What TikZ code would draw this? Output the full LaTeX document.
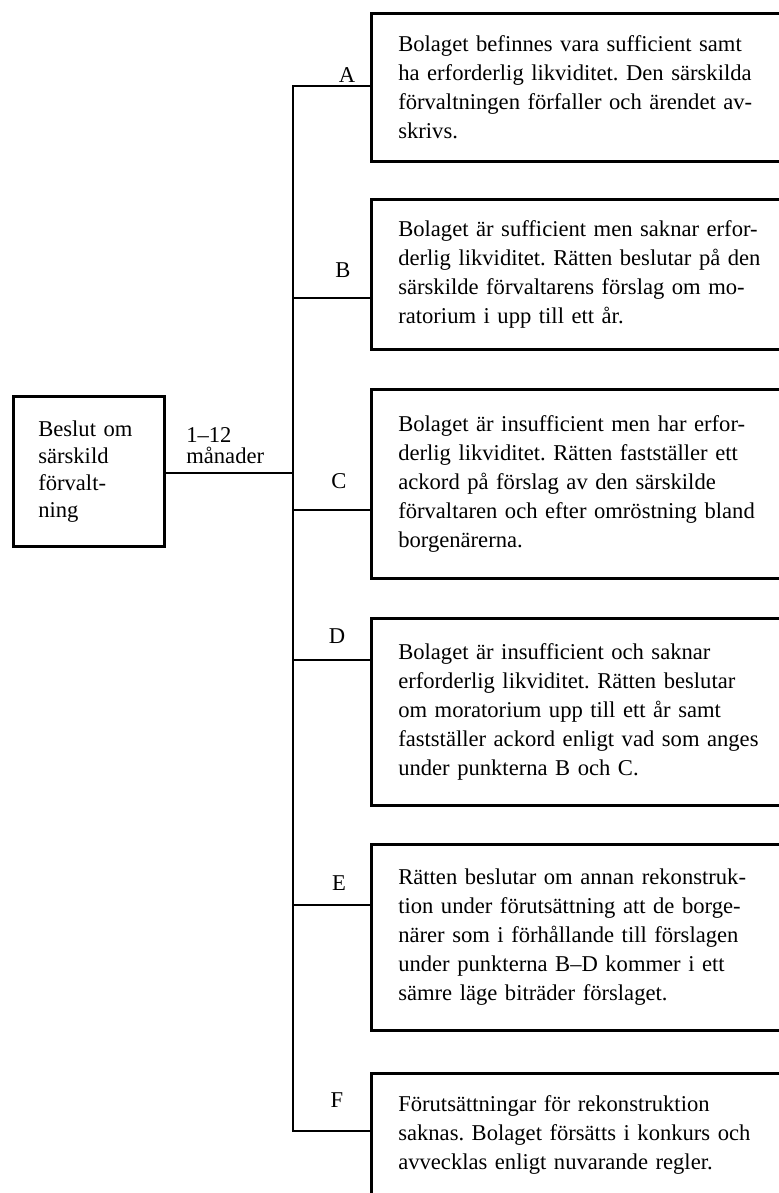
\documentclass[tikz,border=0pt]{standalone}
\usepackage{fontspec}
\setmainfont{Liberation Serif}
\usepackage{tikz}
\usetikzlibrary{positioning, calc}
\frenchspacing

\begin{document}
\begin{tikzpicture}[
  x=0.5pt, y=-0.5pt,
  line width=1.3pt,
  txt/.style={font=\fontsize{11.3}{14.5}\selectfont},
  optbox/.style={txt, draw, anchor=north west, align=left, text width=188pt, inner xsep=13.5pt, inner ysep=0pt},
  startbox/.style={draw, anchor=north west, align=left, text width=50.5pt, inner xsep=12.5pt,
    minimum width=75.5pt, minimum height=75pt, font=\fontsize{11.3}{13.5}\selectfont},
  letter/.style={txt, inner sep=0pt},
]
  \useasboundingbox (0,0) rectangle (778,1193);

  \node[startbox] (beslut) at (12,395) {Beslut om\\särskild\\förvalt-\\ning};
  \node[anchor=north west, inner sep=0pt, align=left, font=\fontsize{11.3}{10.5}\selectfont] (tid) at (185,426) {1–12\\månader};

  \node[optbox, minimum height=74pt] (boxA) at (370,12) {Bolaget befinnes vara sufficient samt\\ha erforderlig likviditet. Den särskilda\\förvaltningen förfaller och ärendet av-\\skrivs.};
  \node[optbox, minimum height=75pt] (boxB) at (370,198) {Bolaget är sufficient men saknar erfor-\\derlig likviditet. Rätten beslutar på den\\särskilde förvaltarens förslag om mo-\\ratorium i upp till ett år.};
  \node[optbox, minimum height=94.5pt] (boxC) at (370,388) {Bolaget är insufficient men har erfor-\\derlig likviditet. Rätten fastställer ett\\ackord på förslag av den särskilde\\förvaltaren och efter omröstning bland\\borgenärerna.};
  \node[optbox, minimum height=93.5pt] (boxD) at (370,617) {Bolaget är insufficient och saknar\\erforderlig likviditet. Rätten beslutar\\om moratorium upp till ett år samt\\fastställer ackord enligt vad som anges\\under punkterna B och C.};
  \node[optbox, minimum height=93pt] (boxE) at (370,843) {Rätten beslutar om annan rekonstruk-\\tion under förutsättning att de borge-\\närer som i förhållande till förslagen\\under punkterna B–D kommer i ett\\sämre läge biträder förslaget.};
  \node[optbox, minimum height=62pt] (boxF) at (370,1072) {Förutsättningar för rekonstruktion\\saknas. Bolaget försätts i konkurs och\\avvecklas enligt nuvarande regler.};

  \node[letter] (labA) at (347,75) {A};
  \node[letter] (labB) at (343,270) {B};
  \node[letter] (labC) at (339,481) {C};
  \node[letter] (labD) at (337,636) {D};
  \node[letter] (labE) at (339,883) {E};
  \node[letter] (labF) at (337,1100) {F};

  \coordinate (jA) at (293,86);
  \coordinate (jB) at (293,298);
  \coordinate (jM) at (293,473);
  \coordinate (jC) at (293,510);
  \coordinate (jD) at (293,660);
  \coordinate (jE) at (293,905);
  \coordinate (jF) at (293,1131);

  \draw (jA -| boxA.west) -- (jA) -- (jF) -- (jF -| boxF.west);
  \draw (jB) -- (jB -| boxB.west);
  \draw (jC) -- (jC -| boxC.west);
  \draw (jD) -- (jD -| boxD.west);
  \draw (jE) -- (jE -| boxE.west);
  \draw (beslut.east |- jM) -- (jM);
\end{tikzpicture}
\end{document}
